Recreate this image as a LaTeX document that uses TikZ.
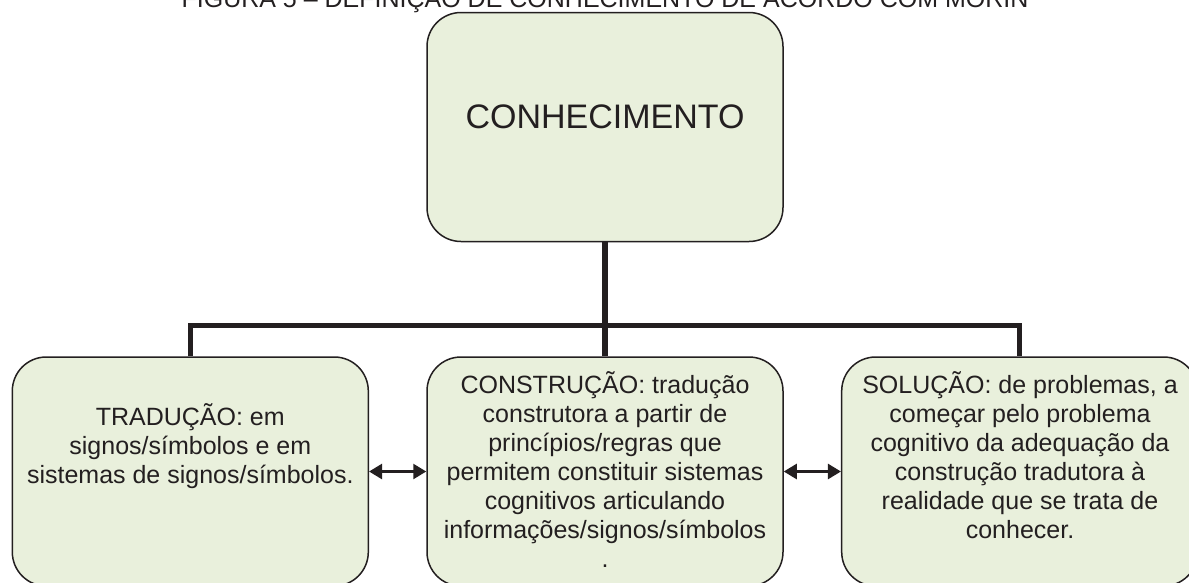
\documentclass[tikz,border=0pt]{standalone}
\usepackage{fontspec}
\setmainfont{Liberation Sans}
\usetikzlibrary{arrows.meta}
\definecolor{ink}{RGB}{35,31,32}
\definecolor{boxfill}{RGB}{233,240,220}
\begin{document}
\begin{tikzpicture}[x=1pt,y=-1pt,
  box/.style={draw=ink, line width=1.5pt, fill=boxfill, rounded corners=34pt,
    minimum width=356pt, minimum height=229pt, inner sep=0pt},
  conn/.style={draw=ink, line width=5.5pt},
  biarrow/.style={draw=ink, line width=2.5pt,
    {Triangle[length=13pt,width=15pt]}-{Triangle[length=13pt,width=15pt]}},
  body/.style={font=\fontsize{25}{29}\selectfont, text=ink, align=center,
    inner sep=0pt, anchor=north},
  big/.style={font=\fontsize{34}{40}\selectfont, text=ink, inner sep=0pt, anchor=base}
]
\useasboundingbox (0,0) rectangle (1189,582);
\node[box] (top) at (605,127) {};
\node[box] (left) at (190.3,471.5) {};
\node[box] (mid) at (605,471.5) {};
\node[box] (right) at (1019.7,471.5) {};

\node[font=\fontsize{25}{29}\selectfont, text=ink, inner sep=0pt, anchor=base] (title) at (605,7.3)
  {FIGURA 5 – DEFINIÇÃO DE CONHECIMENTO DE ACORDO COM MORIN};
\node[big] (toptext) at (605,128.3) {CONHECIMENTO};

\node[body] (lefttext) at (190.3,401)
  {\rule{0pt}{24pt}TRADUÇÃO: em\\ signos/símbolos e em\\ sistemas de signos/símbolos.};
\node[body] (midtext) at (605,369)
  {\rule{0pt}{24pt}CONSTRUÇÃO: tradução\\ construtora a partir de\\ princípios/regras que\\
   permitem constituir sistemas\\ cognitivos articulando\\ informações/signos/símbolos\\ .};
\node[body] (righttext) at (1020,369)
  {\rule{0pt}{24pt}SOLUÇÃO: de problemas, a\\ começar pelo problema\\ cognitivo da adequação da\\
   construção tradutora à\\ realidade que se trata de\\ conhecer.};

\coordinate (bar) at (605,325.5);
\draw[conn] (top.south) -- (mid.north);
\draw[conn] (left.north) -- (left.north |- bar) -- (right.north |- bar) -- (right.north);

\draw[biarrow] (left.east) -- (mid.west);
\draw[biarrow] (mid.east) -- (right.west);
\end{tikzpicture}
\end{document}
